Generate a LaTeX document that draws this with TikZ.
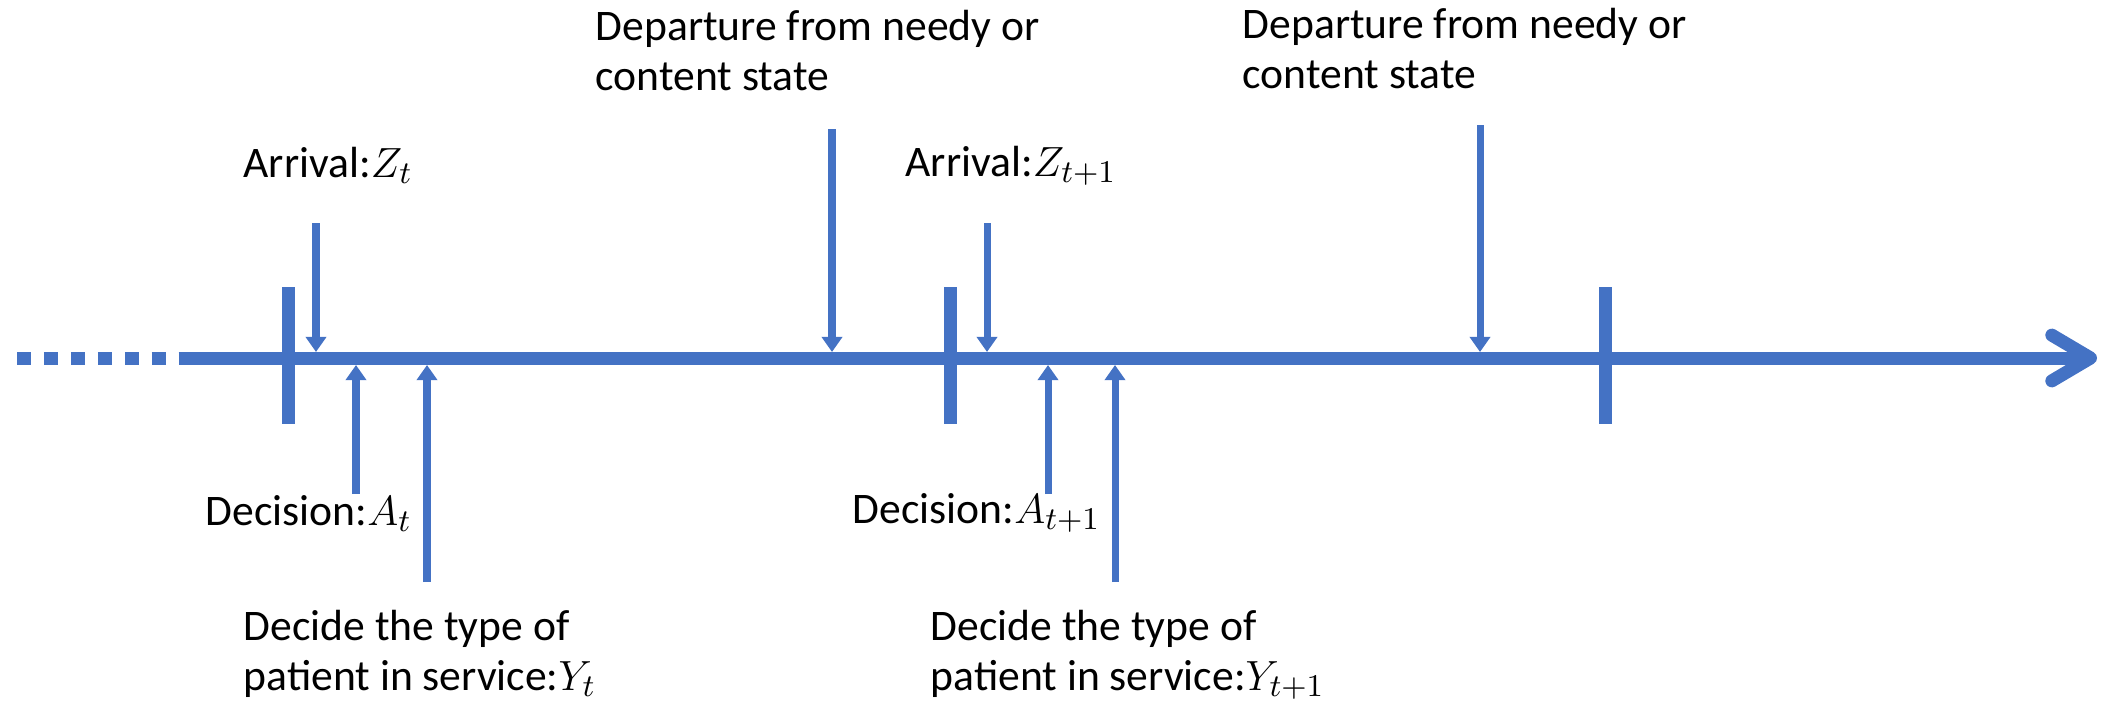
\documentclass[tikz,border=0pt]{standalone}
\usepackage{fontspec}
\setmainfont{Carlito}
\usetikzlibrary{arrows.meta}
\definecolor{lineblue}{HTML}{4472C4}

\tikzset{
  timeline/.style={lineblue, line width=3.7pt},
  tickmark/.style={lineblue, line width=3.7pt},
  event/.style={lineblue, line width=2pt, -{Triangle[width=5.7pt,length=4.3pt]}},
  lbl/.style={font=\fontsize{12.4}{14}\selectfont, inner sep=0pt, anchor=base west, align=left}
}

\begin{document}
\begin{tikzpicture}[x=0.01cm, y=-0.01cm]
    \useasboundingbox (0,0) rectangle (2122,712);
    % time axis
    \coordinate (past) at (17,358);
    \coordinate (start) at (184,358);
    \coordinate (future) at (2097,358);
    \draw[timeline, dash pattern=on 3.97pt off 3.69pt] (past)--(start);
    \draw[timeline, -{Straight Barb[length=11pt,width=13pt,round]}] (start)--(future);
    % period boundaries
    \draw[tickmark] (288.5,287)--(288.5,424);
    \draw[tickmark] (950,287)--(950,424);
    \draw[tickmark] (1605,287)--(1605,424);
    % labels (base = last line)
    \node[lbl] (Zt) at (243,177) {Arrival:$Z_t$};
    \node[lbl] (Ztt) at (905,176) {Arrival:$Z_{t+1}$};
    \node[lbl] (dep1) at (595,90) {Departure from needy or\\content state};
    \node[lbl] (dep2) at (1242,88) {Departure from needy or\\content state};
    \node[lbl] (At) at (205,525) {Decision:$A_t$};
    \node[lbl] (Att) at (852,523) {Decision:$A_{t+1}$};
    \node[lbl] (Yt) at (243,690) {Decide the type of\\patient in service:$Y_t$};
    \node[lbl] (Ytt) at (930,690) {Decide the type of\\patient in service:$Y_{t+1}$};
    % event arrows
    \coordinate (z1a) at (316,223);   \coordinate (z1b) at (316,352);
    \coordinate (a1a) at (356,494);   \coordinate (a1b) at (356,365);
    \coordinate (y1a) at (427,582);   \coordinate (y1b) at (427,365);
    \coordinate (d1a) at (832,129);   \coordinate (d1b) at (832,352);
    \coordinate (z2a) at (987,223);   \coordinate (z2b) at (987,352);
    \coordinate (a2a) at (1048,494);  \coordinate (a2b) at (1048,365);
    \coordinate (y2a) at (1115,582);  \coordinate (y2b) at (1115,365);
    \coordinate (d2a) at (1480,125);  \coordinate (d2b) at (1480,352);
    \draw[event] (z1a)--(z1b);
    \draw[event] (a1a)--(a1b);
    \draw[event] (y1a)--(y1b);
    \draw[event] (d1a)--(d1b);
    \draw[event] (z2a)--(z2b);
    \draw[event] (a2a)--(a2b);
    \draw[event] (y2a)--(y2b);
    \draw[event] (d2a)--(d2b);
\end{tikzpicture}
\end{document}
